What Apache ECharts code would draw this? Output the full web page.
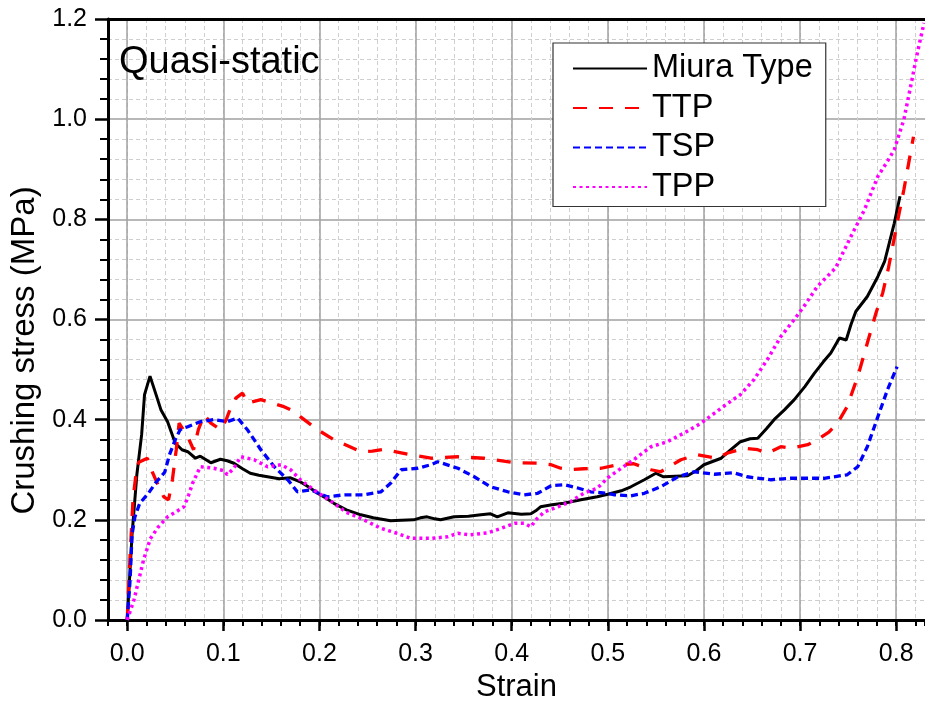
<!DOCTYPE html>
<html><head><meta charset="utf-8">
<script src="https://cdn.jsdelivr.net/npm/echarts@6/dist/echarts.min.js"></script>
<style>html,body{margin:0;padding:0;background:#fff}#c{width:925px;height:702px}</style>
</head><body><div id="c"></div>
<script>
// ---- data ----
const seriesNames = ['Miura Type', 'TTP', 'TSP', 'TPP'];
const xTickLabels = [0, 0.1, 0.2, 0.3, 0.4, 0.5, 0.6, 0.7, 0.8];

const miuraX = [0,0.005,0.01,0.015,0.018,0.0237,0.03,0.035,0.042,0.05,0.057,0.063,0.071,0.076,0.082,0.087,0.097,0.104,0.111,0.12,0.128,0.137,0.146,0.158,0.17,0.18,0.19,0.198,0.207,0.215,0.228,0.243,0.256,0.274,0.285,0.298,0.305,0.312,0.32,0.326,0.34,0.355,0.368,0.378,0.385,0.396,0.41,0.42,0.425,0.43,0.442,0.454,0.472,0.489,0.5,0.514,0.524,0.538,0.55,0.558,0.57,0.583,0.592,0.6,0.618,0.628,0.638,0.648,0.656,0.665,0.673,0.684,0.694,0.705,0.715,0.724,0.732,0.741,0.748,0.753,0.758,0.77,0.781,0.788,0.798,0.804];
const miuraY = [0,0.17,0.29,0.37,0.45,0.487,0.45,0.42,0.396,0.353,0.34,0.336,0.323,0.327,0.32,0.314,0.321,0.318,0.313,0.302,0.293,0.289,0.286,0.282,0.284,0.276,0.264,0.253,0.243,0.233,0.22,0.21,0.204,0.198,0.199,0.2,0.204,0.206,0.202,0.2,0.206,0.207,0.21,0.212,0.206,0.214,0.211,0.212,0.218,0.226,0.23,0.233,0.24,0.246,0.251,0.258,0.266,0.28,0.293,0.286,0.287,0.288,0.298,0.31,0.323,0.34,0.356,0.362,0.363,0.382,0.4,0.42,0.44,0.466,0.493,0.515,0.533,0.563,0.559,0.59,0.616,0.646,0.686,0.716,0.792,0.846];

const ttpX = [0,0.003,0.006,0.009,0.012,0.021,0.026,0.032,0.038,0.043,0.047,0.051,0.054,0.063,0.069,0.074,0.08,0.087,0.097,0.103,0.108,0.113,0.12,0.125,0.139,0.156,0.163,0.172,0.18,0.198,0.215,0.243,0.255,0.267,0.292,0.316,0.344,0.371,0.403,0.427,0.441,0.451,0.46,0.475,0.493,0.51,0.527,0.545,0.555,0.576,0.593,0.614,0.624,0.642,0.656,0.666,0.68,0.69,0.708,0.718,0.73,0.739,0.749,0.76,0.77,0.779,0.786,0.792,0.801,0.808,0.818];
const ttpY = [0,0.13,0.24,0.29,0.315,0.323,0.296,0.27,0.246,0.24,0.28,0.34,0.393,0.366,0.34,0.38,0.41,0.393,0.38,0.4,0.426,0.443,0.453,0.433,0.44,0.43,0.426,0.418,0.406,0.38,0.36,0.336,0.337,0.341,0.331,0.323,0.326,0.323,0.314,0.313,0.31,0.303,0.3,0.302,0.303,0.31,0.312,0.3,0.296,0.32,0.33,0.323,0.333,0.343,0.34,0.333,0.346,0.343,0.35,0.36,0.375,0.393,0.426,0.486,0.553,0.613,0.653,0.703,0.792,0.859,0.965];

const tspX = [0,0.003,0.005,0.008,0.013,0.022,0.03,0.039,0.044,0.05,0.055,0.063,0.076,0.09,0.104,0.115,0.125,0.132,0.139,0.153,0.167,0.177,0.191,0.208,0.226,0.246,0.264,0.274,0.285,0.302,0.316,0.323,0.344,0.361,0.378,0.396,0.413,0.427,0.441,0.455,0.468,0.482,0.5,0.507,0.524,0.538,0.555,0.573,0.59,0.611,0.631,0.645,0.67,0.69,0.708,0.725,0.749,0.76,0.77,0.781,0.791,0.801];
const tspY = [0,0.08,0.17,0.206,0.233,0.253,0.275,0.295,0.33,0.36,0.38,0.386,0.396,0.4,0.396,0.403,0.38,0.36,0.34,0.306,0.28,0.256,0.26,0.246,0.25,0.25,0.256,0.273,0.3,0.303,0.31,0.316,0.303,0.286,0.266,0.256,0.25,0.253,0.268,0.27,0.264,0.256,0.253,0.25,0.248,0.253,0.266,0.286,0.296,0.291,0.294,0.286,0.28,0.283,0.283,0.283,0.29,0.306,0.346,0.406,0.46,0.506];

const tppX = [0,0.007,0.012,0.017,0.024,0.032,0.042,0.05,0.059,0.064,0.068,0.076,0.09,0.101,0.104,0.111,0.118,0.132,0.146,0.16,0.17,0.18,0.194,0.215,0.228,0.243,0.264,0.281,0.295,0.316,0.333,0.344,0.357,0.375,0.389,0.403,0.413,0.42,0.425,0.434,0.448,0.461,0.475,0.489,0.5,0.514,0.527,0.545,0.562,0.579,0.597,0.611,0.625,0.638,0.652,0.666,0.68,0.694,0.704,0.718,0.737,0.753,0.767,0.781,0.791,0.798,0.808,0.815,0.822,0.829];
const tppY = [0,0.04,0.08,0.12,0.162,0.185,0.206,0.215,0.226,0.25,0.273,0.306,0.303,0.298,0.29,0.303,0.326,0.32,0.306,0.31,0.3,0.28,0.26,0.233,0.215,0.203,0.183,0.173,0.163,0.163,0.166,0.173,0.17,0.174,0.183,0.193,0.193,0.186,0.2,0.216,0.226,0.236,0.253,0.263,0.284,0.303,0.32,0.346,0.356,0.373,0.393,0.413,0.433,0.45,0.48,0.52,0.566,0.6,0.626,0.666,0.703,0.766,0.819,0.886,0.916,0.939,0.999,1.065,1.132,1.192];

// ---- chart ----
const FONT = '"Liberation Sans", Arial, sans-serif';
function pairs(xs, ys) { return xs.map((x, i) => [x, ys[i]]); }
const chart = echarts.init(document.getElementById('c'), null, {renderer: 'canvas'});
const MAJOR = '#a0a0a0', MINOR = '#cfcfcf';
const commonX = {type: 'value', min: -0.02, max: 0.83, gridIndex: 0};

chart.setOption({
  animation: false,
  backgroundColor: '#fff',
  title: {
    text: 'Quasi-static', left: 114, top: 39,
    textStyle: {fontFamily: FONT, fontSize: 38, fontWeight: 'normal', color: '#000'}
  },
  grid: {left: 108, right: 0, top: 19, bottom: 82, containLabel: false, outerBoundsMode: 'none'},
  legend: {
    orient: 'vertical', left: 553, top: 43,
    padding: [9, 13, 3, 19],
    itemWidth: 74, itemHeight: 20, itemGap: 6.5,
    borderColor: '#333', borderWidth: 1.2, backgroundColor: '#fff',
    itemStyle: {opacity: 0},
    textStyle: {fontFamily: FONT, fontSize: 32.5, color: '#000'},
    data: seriesNames
  },
  xAxis: [
    Object.assign({}, commonX, {
      position: 'bottom', interval: 0.02,
      axisLine: {show: true, onZero: false, lineStyle: {color: '#000', width: 3}},
      axisTick: {show: true, inside: false, length: 6, lineStyle: {color: '#000', width: 2}},
      axisLabel: {show: false},
      splitLine: {show: true, lineStyle: {color: MINOR, width: 1, type: [4, 3]}}
    }),
    Object.assign({}, commonX, {
      position: 'bottom',
      name: 'Strain', nameLocation: 'middle', nameGap: 49,
      nameTextStyle: {fontFamily: FONT, fontSize: 31, color: '#000'},
      axisLine: {show: false, onZero: false},
      axisTick: {show: true, inside: false, length: 11, customValues: xTickLabels, lineStyle: {color: '#000', width: 2.5}},
      axisLabel: {show: true, margin: 22, customValues: xTickLabels,
        fontFamily: FONT, fontSize: 25, color: '#000',
        formatter: v => Number(v).toFixed(1)},
      splitLine: {show: true, lineStyle: {color: MAJOR, width: 1.5, type: 'solid'}}
    }),
    Object.assign({}, commonX, {
      position: 'top',
      axisLine: {show: true, onZero: false, lineStyle: {color: '#000', width: 3}},
      axisTick: {show: false}, axisLabel: {show: false}, splitLine: {show: false}
    })
  ],
  yAxis: {
    type: 'value', min: 0, max: 1.2, interval: 0.2,
    name: 'Crushing stress (MPa)', nameLocation: 'middle', nameGap: 64,
    nameTextStyle: {fontFamily: FONT, fontSize: 33, color: '#000', padding: [0, 62, 0, 0]},
    axisLine: {show: true, onZero: false, lineStyle: {color: '#000', width: 3}},
    axisTick: {show: true, inside: false, length: 13, lineStyle: {color: '#000', width: 2.5}},
    minorTick: {show: true, splitNumber: 5, length: 8, lineStyle: {color: '#000', width: 2}},
    axisLabel: {margin: 21, fontFamily: FONT, fontSize: 25, color: '#000', formatter: v => v.toFixed(1)},
    splitLine: {show: true, lineStyle: {color: MAJOR, width: 1.5}},
    minorSplitLine: {show: true, lineStyle: {color: MINOR, width: 1, type: [4, 3]}}
  },
  series: [
    {name: seriesNames[0], type: 'line', xAxisIndex: 0, symbol: 'none', data: pairs(miuraX, miuraY),
      lineStyle: {color: '#000', width: 3}, itemStyle: {color: '#000'}},
    {name: seriesNames[1], type: 'line', xAxisIndex: 0, symbol: 'none', data: pairs(ttpX, ttpY),
      lineStyle: {color: '#ff0000', width: 3.3, type: [14, 12]}, itemStyle: {color: '#ff0000'}},
    {name: seriesNames[2], type: 'line', xAxisIndex: 0, symbol: 'none', data: pairs(tspX, tspY),
      lineStyle: {color: '#0000ff', width: 3.3, type: [7, 4]}, itemStyle: {color: '#0000ff'}},
    {name: seriesNames[3], type: 'line', xAxisIndex: 0, symbol: 'none', data: pairs(tppX, tppY),
      lineStyle: {color: '#ff00ff', width: 3.5, type: [3, 3.5]}, itemStyle: {color: '#ff00ff'}}
  ]
});
</script>
</body></html>
